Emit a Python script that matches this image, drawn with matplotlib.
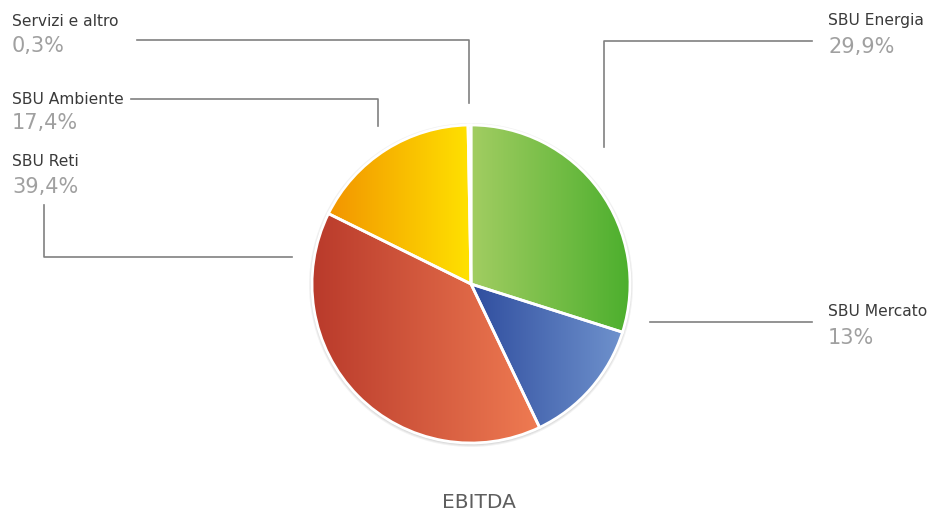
import numpy as np
import matplotlib
matplotlib.use("Agg")
import matplotlib.pyplot as plt
from matplotlib.colors import LinearSegmentedColormap
from matplotlib.patches import Circle

# ---- data ----
categories = ["SBU Energia", "SBU Mercato", "SBU Reti", "SBU Ambiente", "Servizi e altro"]
values = [29.9, 13.0, 39.4, 17.4, 0.3]
pct_labels = ["29,9%", "13%", "39,4%", "17,4%", "0,3%"]
title = "EBITDA"

grad_left = ["#a2cd62", "#2f4d9e", "#b93a2b", "#f29400", "#8fd0ee"]
grad_right = ["#4caf2d", "#6f92cd", "#ef7b52", "#ffe200", "#5fb8e4"]

W, H = 936, 513
fig = plt.figure(figsize=(W / 100, H / 100), dpi=100)
ax = fig.add_axes([0, 0, 1, 1])

def Y(y):
    return H - y

cx, cy, R = 471, Y(284), 159

# shadow
for i, a in enumerate([0.05, 0.05, 0.06]):
    ax.add_patch(Circle((cx, cy - 1), R + 3 - i, facecolor="#000000", alpha=a, lw=0, zorder=1))

wedges, _ = ax.pie(values, startangle=90, counterclock=False, center=(cx, cy),
                   radius=R, frame=True,
                   wedgeprops=dict(edgecolor="white", linewidth=2.0, facecolor="none"))
ax.set_xlim(0, W)
ax.set_ylim(0, H)
ax.set_aspect("equal")
ax.axis("off")

grad = np.linspace(0, 1, 256).reshape(1, -1)
renderer = fig.canvas.get_renderer()
for w, cl, cr in zip(wedges, grad_left, grad_right):
    w.set_zorder(4)
    bb = w.get_window_extent(renderer=renderer)
    inv = ax.transData.inverted()
    (x0, y0), (x1, y1) = inv.transform([[bb.x0, bb.y0], [bb.x1, bb.y1]])
    cmap = LinearSegmentedColormap.from_list("g", [cl, cr])
    im = ax.imshow(grad, cmap=cmap, extent=[x0, x1, y0, y1], aspect="auto",
                   interpolation="bicubic", zorder=3)
    im.set_clip_path(w)
ax.set_xlim(0, W)
ax.set_ylim(0, H)

# leader lines
lc = "#808080"
lw = 1.2
ax.plot([137, 469, 469], [Y(40), Y(40), Y(103)], color=lc, lw=lw)
ax.plot([131, 378, 378], [Y(99), Y(99), Y(126)], color=lc, lw=lw)
ax.plot([44, 44, 292], [Y(205), Y(257), Y(257)], color=lc, lw=lw)
ax.plot([812, 604, 604], [Y(41), Y(41), Y(147)], color=lc, lw=lw)
ax.plot([650, 812], [Y(322), Y(322)], color=lc, lw=lw)

font = ["DejaVu Sans"]
lab_color = "#3a3a3a"
pct_color = "#a0a0a0"
label_pos = {
    "SBU Energia": (828, 21, 47),
    "SBU Mercato": (828, 312, 338),
    "SBU Reti": (12, 162, 187),
    "SBU Ambiente": (12, 99, 123),
    "Servizi e altro": (12, 21, 46),
}
for cat, p in zip(categories, pct_labels):
    x, yl, yp = label_pos[cat]
    ax.text(x, Y(yl), cat, fontsize=11.2, color=lab_color, family=font, va="center", ha="left")
    ax.text(x, Y(yp), p, fontsize=15, color=pct_color, family=font, va="center", ha="left")

ax.text(479, Y(502), title, fontsize=14.5, color="#5e5e5e",
        family=["DejaVu Sans"], va="center", ha="center")

fig.savefig("out.png", dpi=100, facecolor="white")
